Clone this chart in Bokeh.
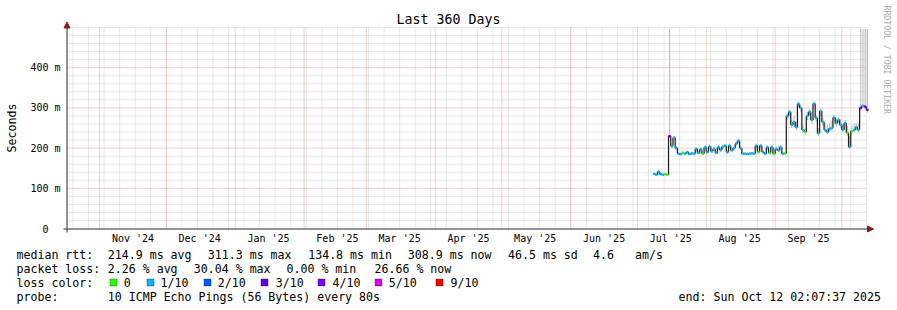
import math
import pandas as pd
from bokeh.plotting import figure
from bokeh.models import Range1d, Label, Arrow, NormalHead, BoxAnnotation
from bokeh.embed import file_html
from bokeh.resources import INLINE

# ---------------- data ----------------
period_start = "2024-10-17 02:07:37"
period_end = "2025-10-12 02:07:37"
first_bin = "2025-07-08"

median_ms = [136, 134, 141, 135, 134, 135, 134, 230, 205, 226, 200,
             186, 185, 188, 186, 190, 185, 187, 186,
             198, 188, 197, 186, 202, 190, 204, 192, 198, 188, 202, 195,
             204, 206, 190, 206, 194, 200, 211, 218, 200, 186, 186, 185, 186, 187, 186,
             206, 190, 206, 190, 186, 202, 188, 202, 186, 198, 194, 202, 186, 187,
             280, 290, 258, 265, 252, 310, 300, 245, 240, 280, 290, 270, 311,
             275, 237, 292, 265, 245, 240, 248, 250, 276, 262, 270, 258, 245, 262,
             238, 203, 242, 245, 252, 246,
             300, 306, 303, 295]

smoke_lo_ms = [133, 131, 133, 132, 131, 132, 131, 225, 200, 220, 196,
               183, 182, 184, 183, 186, 182, 184, 183,
               192, 185, 192, 183, 196, 186, 198, 188, 193, 185, 196, 190,
               198, 200, 186, 200, 190, 195, 205, 212, 195, 183, 183, 182, 183, 184, 183,
               200, 186, 200, 186, 183, 196, 185, 196, 183, 193, 190, 196, 183, 184,
               270, 280, 250, 256, 244, 300, 290, 238, 234, 270, 280, 262, 302,
               266, 230, 282, 255, 238, 234, 240, 242, 266, 254, 262, 250, 238, 254,
               230, 198, 236, 238, 244, 238,
               294, 300, 296, 288]

smoke_hi_ms = [139, 137, 146, 138, 137, 138, 137, 496, 212, 230, 205,
               190, 189, 192, 190, 194, 189, 191, 190,
               203, 192, 202, 190, 207, 195, 209, 197, 203, 192, 207, 200,
               209, 211, 195, 211, 199, 205, 216, 224, 205, 190, 190, 189, 190, 191, 190,
               212, 194, 211, 195, 190, 207, 192, 207, 190, 204, 207, 208, 191, 191,
               286, 296, 272, 280, 266, 316, 306, 258, 250, 290, 297, 278, 316,
               282, 250, 298, 275, 262, 258, 262, 266, 282, 272, 277, 272, 262, 270,
               255, 230, 256, 262, 262, 262,
               496, 496, 496, 496]

loss_tenths = [1, 1, 1, 1, 1, 0, 0, 3, 1, 1, 1,
               1, 1, 0, 1, 1, 1, 1, 1,
               1, 1, 1, 0, 1, 1, 1, 1, 1, 1, 1, 1,
               1, 1, 1, 1, 1, 1, 1, 1, 1, 1, 1, 1, 1, 1, 1,
               1, 0, 1, 1, 1, 1, 0, 1, 0, 1, 1, 1, 1, 0,
               1, 1, 1, 1, 1, 1, 1, 1, 0, 1, 1, 1, 1,
               1, 1, 1, 1, 1, 1, 1, 1, 1, 1, 1, 1, 1, 1,
               0, 1, 0, 1, 1, 1,
               3, 1, 3, 4]

loss_keys = [0, 1, 2, 3, 4, 5, 9]
loss_names = ["0", "1/10", "2/10", "3/10", "4/10", "5/10", "9/10"]
loss_palette = ["#26ff00", "#00b8ff", "#0059ff", "#5e00ff", "#7e00ff", "#dd00ff", "#ff0000"]

y_ticks = [0, 100, 200, 300, 400]
y_tick_labels = ["0", "100 m", "200 m", "300 m", "400 m"]
y_max = 500

title_text = "Last 360 Days"
y_title = "Seconds"
rtt_head = "median rtt:"
rtt_items = ["214.9 ms avg", "311.3 ms max", "134.8 ms min", "308.9 ms now", "46.5 ms sd", "4.6", "am/s"]
loss_head = "packet loss:"
loss_items = ["2.26 % avg", "30.04 % max", "0.00 % min", "26.66 % now"]
color_head = "loss color:"
probe_head = "probe:"
probe_text = "10 ICMP Echo Pings (56 Bytes) every 80s"
end_text = "end: Sun Oct 12 02:07:37 2025"
credit_text = "RRDTOOL / TOBI OETIKER"

# ---------------- layout ----------------
W, H = 897, 310
GL, GT, GW, GH = 66, 27, 800, 201      # graph area on the canvas
GB = GT + GH
MONO = "DejaVu Sans Mono"

t0 = pd.Timestamp(period_start)
t1 = pd.Timestamp(period_end)
t0_ms = t0.value / 1e6
t1_ms = t1.value / 1e6
ms_per_px = (t1_ms - t0_ms) / GW
val_per_px = y_max / GH

# the plotting frame covers the whole canvas; ranges are set so that the
# graph area [t0, t1] x [0, y_max] sits at GL..GL+GW, GT..GB
x_range = Range1d(t0_ms - GL * ms_per_px, t1_ms + (W - GL - GW) * ms_per_px)
y_range = Range1d(-(H - GB) * val_per_px, y_max + GT * val_per_px)

p = figure(width=W, height=H, x_range=x_range, y_range=y_range,
           x_axis_location=None, y_axis_location=None,
           output_backend="svg", toolbar_location=None,
           min_border=0, min_border_left=0, min_border_right=0,
           min_border_top=0, min_border_bottom=0)
p.outline_line_color = None
p.background_fill_color = "white"
p.border_fill_color = "white"
p.xgrid.visible = False
p.ygrid.visible = False


def sy(cy):  # canvas y (top-down) -> screen units (bottom-up)
    return H - cy


weeks = pd.date_range("2024-10-20", t1, freq="7D")
month_starts = pd.date_range("2024-11-01", t1, freq="MS")
mid_months = pd.DatetimeIndex([d + pd.Timedelta(days=15)
                               for d in pd.date_range("2024-11-01", "2025-09-01", freq="MS")])
minor_y = [v for v in range(20, y_max + 1, 20) if v % 100 != 0 or v == y_max]
major_y = [v for v in y_ticks if v > 0]

GRID_GRAY = "#cdcdcd"
GRID_RED = "#f09a9a"
DASH = "1 1"
# minor grid
p.segment(x0=list(weeks), y0=0, x1=list(weeks), y1=y_max,
          line_color=GRID_GRAY, line_width=1, line_dash=DASH)
p.segment(x0=t0, y0=minor_y, x1=t1, y1=minor_y,
          line_color=GRID_GRAY, line_width=1, line_dash=DASH)
# major grid
p.segment(x0=list(month_starts), y0=0, x1=list(month_starts), y1=y_max,
          line_color=GRID_RED, line_width=1, line_dash=DASH)
p.segment(x0=t0, y0=major_y, x1=t1, y1=major_y,
          line_color=GRID_RED, line_width=1, line_dash=DASH)

# ---------------- data marks ----------------
n = len(median_ms)
bins = pd.date_range(first_bin, periods=n, freq="D")
bin_end = bins + pd.Timedelta(days=1)
bin_mid = bins + pd.Timedelta(hours=12)

p.vbar(x=bin_mid, width=0.5 * 86400000, bottom=smoke_lo_ms, top=smoke_hi_ms,
       fill_color="#bcbcbc", line_color=None)

p.segment(x0=bin_end[:-1], y0=median_ms[:-1], x1=bin_end[:-1], y1=median_ms[1:],
          line_color="#1a1a1a", line_width=1.2)
p.segment(x0=bins, y0=median_ms, x1=bin_end, y1=median_ms, line_color="#1a1a1a", line_width=1.2)
seg_colors = [loss_palette[loss_keys.index(k)] for k in loss_tenths]
p.segment(x0=bins, y0=median_ms, x1=bin_end, y1=median_ms, line_color=seg_colors, line_width=2.2)

# ---------------- axes lines with arrows ----------------
AX_COL = "#2c2c2c"
ARROW_COL = "#8b1a1a"
p.add_layout(Arrow(end=NormalHead(size=6, fill_color=ARROW_COL, line_color=ARROW_COL),
                   x_start=GL + 0.5, y_start=sy(232), x_end=GL + 0.5, y_end=sy(21.5),
                   start_units="screen", end_units="screen", line_color=AX_COL, line_width=1))
p.add_layout(Arrow(end=NormalHead(size=6, fill_color=ARROW_COL, line_color=ARROW_COL),
                   x_start=63, y_start=sy(GB + 0.5), x_end=873, y_end=sy(GB + 0.5),
                   start_units="screen", end_units="screen", line_color=AX_COL, line_width=1))


def label(text, cx, cy, size="11.6px", align="left", angle=0.0, color="black"):
    p.add_layout(Label(x=cx, y=sy(cy), x_units="screen", y_units="screen", text=text,
                       text_font=MONO, text_font_size=size, text_align=align,
                       text_baseline="middle", angle=angle, text_color=color))


# y tick labels (centred, positioned by value)
for v, t in zip(y_ticks, y_tick_labels):
    p.add_layout(Label(x=45, y=v, x_units="screen", y_units="data", text=t,
                       text_font=MONO, text_font_size="10px", text_align="center",
                       text_baseline="middle", text_color="black"))

# x tick labels (mid-month, positioned by date)
for d in mid_months:
    p.add_layout(Label(x=d.value / 1e6, y=sy(237.5), x_units="data", y_units="screen",
                       text=d.strftime("%b '%y"), text_font=MONO, text_font_size="10px",
                       text_align="center", text_baseline="middle", text_color="black"))

label(title_text, 448, 19, size="13.3px", align="center")
label(y_title, 11, 127.5, align="center", angle=math.pi / 2)
label(credit_text, 886, 5, size="8.2px", align="left", angle=-math.pi / 2, color="#aaaaaa")

ROW = [254.3, 268.3, 282.3, 296.3]
label(rtt_head, 16, ROW[0])
for t, cx in zip(rtt_items, [107.3, 207.3, 307.7, 407.3, 507.5, 592.5, 634.5]):
    label(t, cx, ROW[0])
label(loss_head, 16, ROW[1])
for t, cx in zip(loss_items, [107.3, 193.3, 286.0, 374.0]):
    label(t, cx, ROW[1])
label(color_head, 16, ROW[2])
for name, col, bx, tx in zip(loss_names, loss_palette,
                             [109, 146, 203, 260, 317, 374, 435],
                             [123.3, 160, 217.3, 275.3, 332, 388.3, 450]):
    p.add_layout(BoxAnnotation(left=bx + 0.5, right=bx + 7.5, top=sy(278.5), bottom=sy(285.5),
                               left_units="screen", right_units="screen",
                               top_units="screen", bottom_units="screen",
                               fill_color=col, fill_alpha=1, line_color="black", line_width=1))
    label(name, tx, ROW[2])
label(probe_head, 16, ROW[3])
label(probe_text, 107.3, ROW[3])
label(end_text, 880.5, ROW[3], align="right")

open("out.html", "w").write(file_html(p, INLINE))
